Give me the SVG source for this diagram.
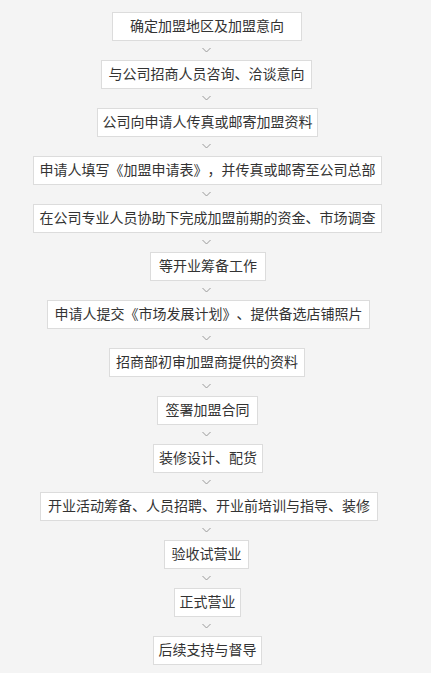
<svg xmlns="http://www.w3.org/2000/svg" width="431" height="673" viewBox="0 0 431 673">
<style>
.bg{fill:#f4f4f4}
.box{fill:#ffffff;stroke:#dcdcdc;stroke-width:1}
.t{font-family:"Noto Sans CJK SC","Noto Sans CJK TC",sans-serif;font-size:14px;fill:#333333;text-anchor:middle;text-spacing-trim:space-all;font-feature-settings:"halt" 0}
.chev{fill:none;stroke:#9a9a9a;stroke-width:1}
</style>
<defs>
<path id="cv" d="M-4,-2 L0,2 L4,-2"/>
</defs>
<rect class="bg" x="0" y="0" width="431" height="673"/>
<g id="connectors">
<use href="#cv" class="chev" x="206.5" y="50"/>
<use href="#cv" class="chev" x="206.5" y="98"/>
<use href="#cv" class="chev" x="206.5" y="146"/>
<use href="#cv" class="chev" x="206.5" y="194"/>
<use href="#cv" class="chev" x="206.5" y="242"/>
<use href="#cv" class="chev" x="206.5" y="290"/>
<use href="#cv" class="chev" x="206.5" y="338"/>
<use href="#cv" class="chev" x="206.5" y="386"/>
<use href="#cv" class="chev" x="206.5" y="434"/>
<use href="#cv" class="chev" x="206.5" y="482"/>
<use href="#cv" class="chev" x="206.5" y="530"/>
<use href="#cv" class="chev" x="206.5" y="578"/>
<use href="#cv" class="chev" x="206.5" y="626"/>
</g>
<g id="n1"><rect class="box" x="112.5" y="12.5" width="189" height="28"/><text class="t" x="207" y="31">确定加盟地区及加盟意向</text></g>
<g id="n2"><rect class="box" x="101.5" y="60.5" width="210" height="28"/><text class="t" x="206.5" y="79">与公司招商人员咨询、洽谈意向</text></g>
<g id="n3"><rect class="box" x="97.5" y="108.5" width="220" height="28"/><text class="t" x="207.5" y="127">公司向申请人传真或邮寄加盟资料</text></g>
<g id="n4"><rect class="box" x="33.5" y="156.5" width="348" height="28"/><text class="t" x="207.5" y="175">申请人填写《加盟申请表》，并传真或邮寄至公司总部</text></g>
<g id="n5"><rect class="box" x="33.5" y="204.5" width="348" height="28"/><text class="t" x="207.5" y="223">在公司专业人员协助下完成加盟前期的资金、市场调查</text></g>
<g id="n6"><rect class="box" x="150.5" y="252.5" width="115" height="28"/><text class="t" x="208" y="271">等开业筹备工作</text></g>
<g id="n7"><rect class="box" x="47.5" y="300.5" width="322" height="28"/><text class="t" x="208.5" y="319">申请人提交《市场发展计划》、提供备选店铺照片</text></g>
<g id="n8"><rect class="box" x="109.5" y="348.5" width="195" height="28"/><text class="t" x="207" y="367">招商部初审加盟商提供的资料</text></g>
<g id="n9"><rect class="box" x="157.5" y="396.5" width="100" height="28"/><text class="t" x="207.5" y="415">签署加盟合同</text></g>
<g id="n10"><rect class="box" x="153.5" y="444.5" width="109" height="28"/><text class="t" x="208" y="463">装修设计、配货</text></g>
<g id="n11"><rect class="box" x="40.5" y="492.5" width="337" height="28"/><text class="t" x="209" y="511">开业活动筹备、人员招聘、开业前培训与指导、装修</text></g>
<g id="n12"><rect class="box" x="164.5" y="540.5" width="84" height="28"/><text class="t" x="206.5" y="559">验收试营业</text></g>
<g id="n13"><rect class="box" x="174.5" y="588.5" width="66" height="28"/><text class="t" x="207.5" y="607">正式营业</text></g>
<g id="n14"><rect class="box" x="153.5" y="636.5" width="108" height="28"/><text class="t" x="207.5" y="655">后续支持与督导</text></g>
</svg>
